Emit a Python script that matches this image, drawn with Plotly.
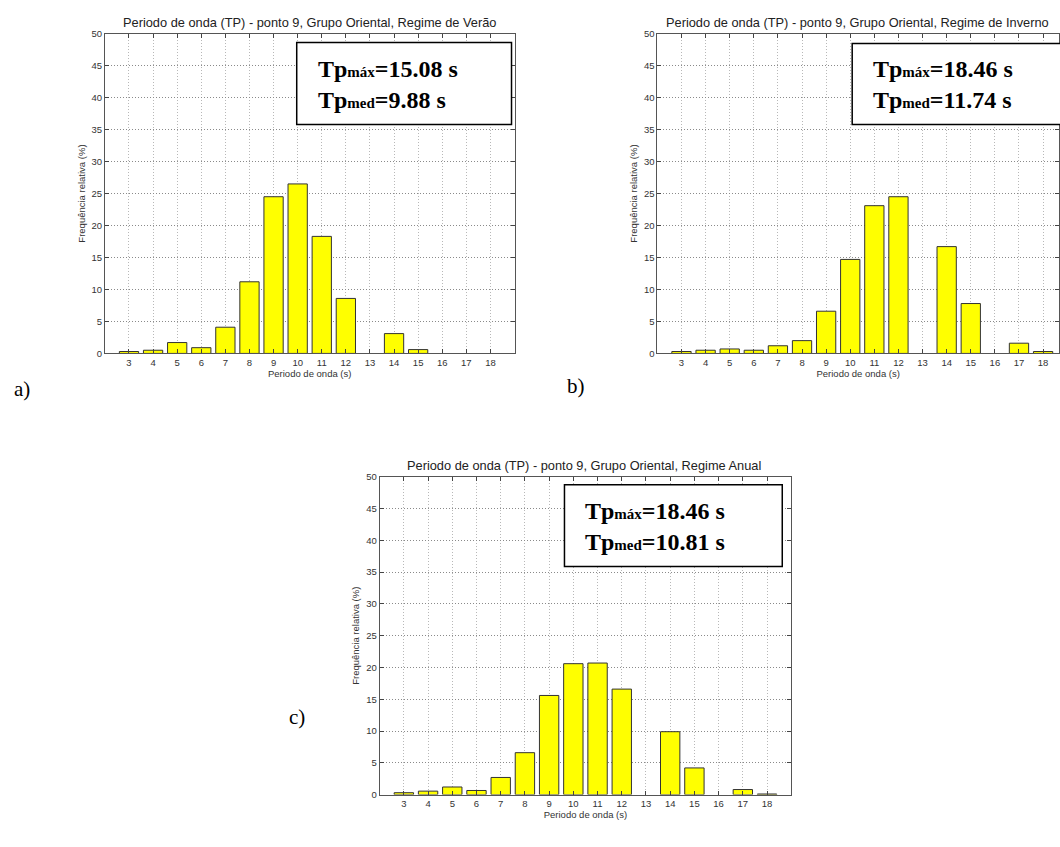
import plotly.graph_objects as go

periods = [3, 4, 5, 6, 7, 8, 9, 10, 11, 12, 13, 14, 15, 16, 17, 18]
freq_verao = [0.3, 0.5, 1.7, 0.9, 4.1, 11.2, 24.5, 26.5, 18.3, 8.6, 0, 3.1, 0.6, 0, 0, 0]
freq_inverno = [0.3, 0.5, 0.7, 0.5, 1.2, 2.0, 6.6, 14.7, 23.1, 24.5, 0, 16.7, 7.8, 0, 1.6, 0.3]
freq_anual = [0.3, 0.55, 1.2, 0.65, 2.7, 6.6, 15.6, 20.6, 20.7, 16.6, 0, 9.9, 4.2, 0, 0.8, 0.1]

titles = [
    "Periodo de onda (TP) - ponto 9, Grupo Oriental, Regime de Verão",
    "Periodo de onda (TP) - ponto 9, Grupo Oriental, Regime de Inverno",
    "Periodo de onda (TP) - ponto 9, Grupo Oriental, Regime Anual",
]
tp_max = ["15.08", "18.46", "18.46"]
tp_med = ["9.88", "11.74", "10.81"]
panel_labels = ["a)", "b)", "c)"]
y_ticks = [0, 5, 10, 15, 20, 25, 30, 35, 40, 45, 50]

W, H = 1060, 847

# pixel boxes of the plot areas: (left, right, top, bottom)
boxes = [(105, 515, 28, 352), (658, 1060, 28, 352), (380, 792, 477, 799)]
xranges = [[2, 19], [2, 18.66], [2, 19]]
title_centers = [310, 858, 585]
text_boxes = [(297, 512, 37, 120), (853, 1062, 38, 120), (565, 783, 485, 568)]
label_pos = [(22, 388), (577, 385), (297, 720)]

def fx(p):
    return p / W

def fy(p):
    return 1 - p / H

fig = go.Figure()
series = [freq_verao, freq_inverno, freq_anual]
layout = dict(
    width=W, height=H, margin=dict(l=0, r=0, t=0, b=0),
    paper_bgcolor="white", plot_bgcolor="white", showlegend=False,
    font=dict(family="Liberation Sans, Arial", size=9.5, color="#333"),
)
annotations = []
shapes = []
for i in range(3):
    sfx = "" if i == 0 else str(i + 1)
    l, r, t, b = boxes[i]
    vals = series[i]
    fig.add_trace(go.Bar(
        x=periods, y=vals, width=0.8,
        marker=dict(color="#FFFF00",
                    line=dict(color="#333333", width=[1 if v > 0 else 0 for v in vals])),
        xaxis="x" + sfx, yaxis="y" + sfx,
    ))
    layout["xaxis" + sfx] = dict(
        domain=[fx(l), fx(r)], range=xranges[i], anchor="y" + sfx,
        tickvals=periods, ticks="inside", ticklen=4, tickcolor="#444",
        showline=True, linecolor="#555", linewidth=1, mirror="ticks",
        showgrid=True, gridcolor="#b8b8b8", griddash="1px,2px", gridwidth=1,
        zeroline=False, tickfont=dict(size=9.5, color="#333"),
        title=dict(text="Periodo de onda (s)", font=dict(size=9.5, color="#333"), standoff=1),
    )
    layout["yaxis" + sfx] = dict(
        domain=[fy(b), fy(t)], range=[0, 50], anchor="x" + sfx,
        tickvals=y_ticks, ticks="inside", ticklen=4, tickcolor="#444",
        showline=True, linecolor="#555", linewidth=1, mirror="ticks",
        showgrid=True, gridcolor="#8a8a8a", griddash="1px,2px", gridwidth=1,
        zeroline=False, tickfont=dict(size=9.5, color="#333"),
        title=dict(text="Frequência relativa (%)", font=dict(size=9.5, color="#333"), standoff=4),
    )
    annotations.append(dict(
        text=titles[i], xref="paper", yref="paper",
        x=fx(title_centers[i]), y=fy(t - 2),
        xanchor="center", yanchor="bottom", showarrow=False,
        font=dict(family="Liberation Sans, Arial", size=12.8, color="#222"),
    ))
    bl, br, bt, bb = text_boxes[i]
    shapes.append(dict(
        type="rect", xref="paper", yref="paper",
        x0=fx(bl), x1=fx(br), y0=fy(bb), y1=fy(bt),
        fillcolor="white", line=dict(color="black", width=1.5), layer="above",
    ))
    annotations.append(dict(
        text=("Tp<span style='font-size:15px'>máx</span>=" + tp_max[i] + " s<br>"
              "Tp<span style='font-size:15px'>med</span>=" + tp_med[i] + " s"),
        xref="paper", yref="paper", x=fx(bl + 19), y=fy((bt + bb) / 2 + 1),
        xanchor="left", yanchor="middle", align="left", showarrow=False,
        font=dict(family="Liberation Serif, Times New Roman", size=24, color="black", weight="bold"),
    ))
    lx, ly = label_pos[i]
    annotations.append(dict(
        text=panel_labels[i], xref="paper", yref="paper", x=fx(lx), y=fy(ly),
        xanchor="center", yanchor="middle", showarrow=False,
        font=dict(family="Liberation Serif, Times New Roman", size=21, color="black"),
    ))

layout["annotations"] = annotations
layout["shapes"] = shapes
fig.update_layout(**layout)
fig.write_html("out.html", config={"displayModeBar": False},
               post_script="document.body.style.margin='0';document.body.style.overflow='hidden';")
